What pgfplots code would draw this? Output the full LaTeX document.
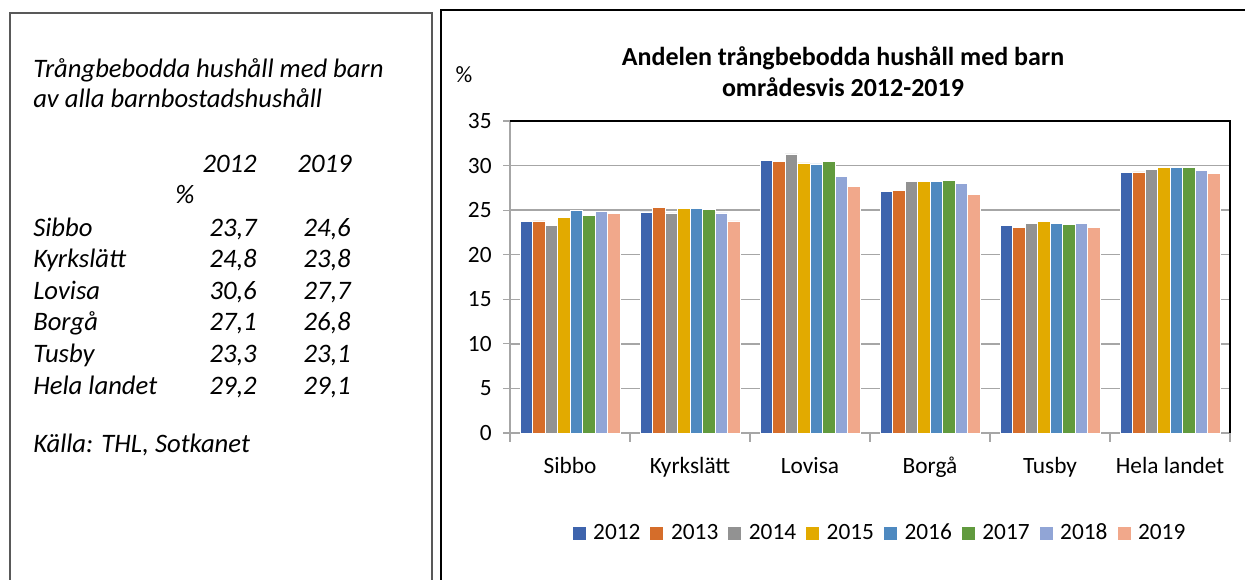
\documentclass[border=0pt]{standalone}
\usepackage{fontspec}
\setmainfont{Carlito}
\usepackage{pgfplots}
\pgfplotsset{compat=1.18}
\definecolor{c12}{HTML}{3E64AD}
\definecolor{c13}{HTML}{D56D2A}
\definecolor{c14}{HTML}{929292}
\definecolor{c15}{HTML}{E2AA00}
\definecolor{c16}{HTML}{4E89C0}
\definecolor{c17}{HTML}{619A3E}
\definecolor{c18}{HTML}{91A5D6}
\definecolor{c19}{HTML}{F1A88B}
\definecolor{gridc}{HTML}{A6A6A6}
\begin{document}
\begin{tikzpicture}[x=0.75pt,y=0.75pt]
\useasboundingbox (0,0) rectangle (1245,579);
\begin{scope}
\clip (0,0) rectangle (1245,579);
\draw[line width=1.5, color=black!65] (10,-10) rectangle (432,566);
\draw[line width=1.5, color=black] (441,-10) rectangle (1262,569);
\end{scope}
% left text panel
\begin{scope}[every node/.style={font=\itshape\fontsize{20}{24}\selectfont, inner sep=0pt}]
\node[anchor=base west] at (33,501) {Trångbebodda hushåll med barn};
\node[anchor=base west] at (33,471) {av alla barnbostadshushåll};
\node[anchor=base east] at (257,406) {2012};
\node[anchor=base east] at (352,406) {2019};
\node[anchor=base] at (185,375) {\%};
\node[anchor=base west] at (33,342) {Sibbo};
\node[anchor=base west] at (33,311) {Kyrkslätt};
\node[anchor=base west] at (33,279) {Lovisa};
\node[anchor=base west] at (33,248) {Borgå};
\node[anchor=base west] at (33,217) {Tusby};
\node[anchor=base west] at (33,185) {Hela landet};
\node[anchor=base east] at (257,342) {23,7};
\node[anchor=base east] at (257,311) {24,8};
\node[anchor=base east] at (257,279) {30,6};
\node[anchor=base east] at (257,248) {27,1};
\node[anchor=base east] at (257,217) {23,3};
\node[anchor=base east] at (257,185) {29,2};
\node[anchor=base east] at (351,342) {24,6};
\node[anchor=base east] at (351,311) {23,8};
\node[anchor=base east] at (351,279) {27,7};
\node[anchor=base east] at (351,248) {26,8};
\node[anchor=base east] at (351,217) {23,1};
\node[anchor=base east] at (351,185) {29,1};
\node[anchor=base west] at (33,127) {Källa: THL, Sotkanet};
\end{scope}
% chart title and unit
\node[align=center, font=\bfseries\fontsize{19.5}{23}\selectfont] at (843,507) {Andelen trångbebodda hushåll med barn\\områdesvis 2012-2019};
\node[font=\fontsize{17.5}{20}\selectfont] at (464,504) {\%};
\begin{axis}[
  at={(382.5pt,109.5pt)}, anchor=south west,
  scale only axis, width=540pt, height=234pt,
  xmin=-0.5, xmax=5.5, ymin=0, ymax=35,
  ybar=0pt, bar width=9.375pt,
  xtick={0,...,5},
  xticklabels={Sibbo,Kyrkslätt,Lovisa,Borgå,Tusby,Hela landet},
  minor xtick={-0.5,0.5,...,5.5},
  ytick={0,5,...,35},
  major x tick style={draw=none},
  tick align=outside,
  major tick length=5.25pt,
  minor tick length=6.5pt,
  tick style={gridc, line width=0.8pt},
  axis x line*=bottom, axis y line*=left,
  axis line style={gridc, line width=1pt},
  ymajorgrids, grid style={gridc, line width=1pt},
  /pgf/number format/assume math mode=true,
  tick label style={font=\fontsize{17.5}{20}\selectfont},
  xticklabel style={anchor=base, yshift=-24.75pt},
  yticklabel style={xshift=-5pt},
  legend style={at={(0.5118,-0.3205)}, anchor=center, draw=none, fill=none,
    font=\fontsize{17.5}{20}\selectfont, nodes={inner sep=0pt},
    /tikz/every odd column/.append style={column sep=5.25pt},
    /tikz/every even column/.append style={column sep=6.75pt}},
  legend columns=8,
  legend image code/.code={\fill[#1] (0pt,-5.25pt) rectangle (10.5pt,5.25pt);},
  every axis plot/.append style={draw=white, line width=0.4pt},
  clip=false,
]
\addplot[fill=c12] coordinates {(0,23.7) (1,24.8) (2,30.6) (3,27.1) (4,23.3) (5,29.2)};
\addplot[fill=c13] coordinates {(0,23.8) (1,25.3) (2,30.5) (3,27.2) (4,23.1) (5,29.3)};
\addplot[fill=c14] coordinates {(0,23.3) (1,24.7) (2,31.3) (3,28.2) (4,23.5) (5,29.6)};
\addplot[fill=c15] coordinates {(0,24.2) (1,25.2) (2,30.3) (3,28.2) (4,23.7) (5,29.8)};
\addplot[fill=c16] coordinates {(0,25.0) (1,25.2) (2,30.2) (3,28.2) (4,23.5) (5,29.8)};
\addplot[fill=c17] coordinates {(0,24.4) (1,25.1) (2,30.5) (3,28.3) (4,23.4) (5,29.8)};
\addplot[fill=c18] coordinates {(0,24.9) (1,24.7) (2,28.8) (3,28.0) (4,23.5) (5,29.5)};
\addplot[fill=c19] coordinates {(0,24.6) (1,23.8) (2,27.7) (3,26.8) (4,23.1) (5,29.1)};
\legend{2012,2013,2014,2015,2016,2017,2018,2019}
\draw[black, line width=1pt] (rel axis cs:0,1) -- (rel axis cs:1,1) -- (rel axis cs:1,0);
\end{axis}
\end{tikzpicture}
\end{document}
